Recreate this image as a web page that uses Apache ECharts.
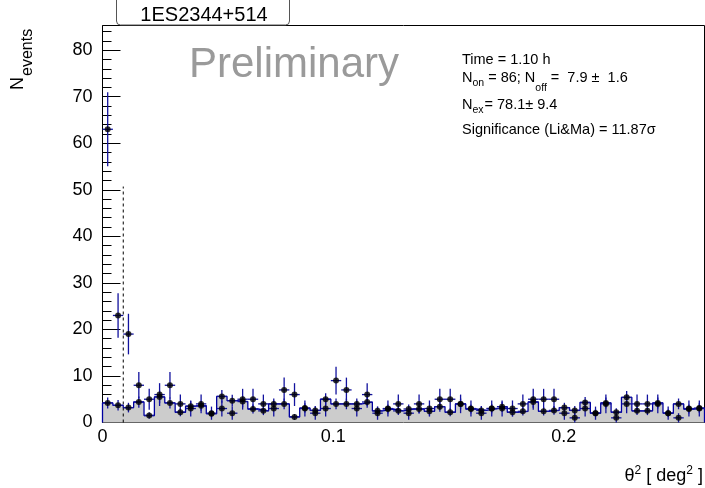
<!DOCTYPE html>
<html><head><meta charset="utf-8">
<script src="https://cdn.jsdelivr.net/npm/echarts@6/dist/echarts.min.js"></script>
<style>html,body{margin:0;padding:0;background:#fff}#c{width:705px;height:488px}</style>
</head><body><div id="c"></div>
<script>
// ---- data ----
const binWidth = 0.0045;
const xMax = 0.261;
const yMax = 85.3;
const onCounts = [63,23,19,8,5,6,8,4,3,4,2,3,2,5,5,4,3,7,6,3,2,3,9,7,3,6,2,3,4,2,
                  4,3,5,5,4,3,2,3,3,3,4,5,5,5,2,1,3,2,4,1,4,4,4,4,2,1,3,3];
const offCounts = [4.2,3.7,3.2,4.4,1.5,5.5,4.2,2.2,3.5,3.6,1.9,5.6,4.7,4.5,2.9,2.5,4.0,4.0,1.2,3.1,
                   2.6,5.0,4.0,4.0,4.0,4.4,2.5,2.9,2.5,2.9,2.9,2.4,3.4,2.2,4.0,2.9,2.6,3.0,3.4,2.2,
                   2.4,4.4,2.4,2.6,3.2,2.6,4.3,2.0,4.2,2.2,5.4,2.5,2.5,4.2,2.0,4.0,2.9,3.1];
const offNorm = 1/3;
const cutValue = 0.009;
const cutLineTop = 50.7;
const title = '1ES2344+514';
const statsTime = 'Time = 1.10 h';
const statsOn = '86', statsOff = '7.9 \u00b1  1.6', statsEx = '78.1\u00b1 9.4', statsSig = 'Significance (Li&Ma) = 11.87\u03c3';

const FONT = '"Liberation Sans", Arial, Helvetica, sans-serif';
const BLUE = '#12129e';

// ---- derived ----
const centers = onCounts.map((_, i) => (i + 0.5) * binWidth);
const onErr = onCounts.map((c, i) => [centers[i], c, Math.sqrt(c)]);
const offErr = offCounts.map((c, i) => [centers[i], c, Math.sqrt(c * offNorm)]);
const onPts = onCounts.map((c, i) => [centers[i], c]);
const offPts = offCounts.map((c, i) => [centers[i], c]);
const step = [[0, 0]];
offCounts.forEach((c, i) => { step.push([i * binWidth, c]); step.push([(i + 1) * binWidth, c]); });
step.push([offCounts.length * binWidth, 0]);

function errRender(params, api) {
  const x = api.value(0), y = api.value(1), e = api.value(2);
  const pL = api.coord([x - binWidth / 2, y]);
  const pR = api.coord([x + binWidth / 2, y]);
  const pT = api.coord([x, y + e]);
  const pB = api.coord([x, Math.max(0, y - e)]);
  return { type: 'group', children: [
    { type: 'line', shape: { x1: pL[0], y1: pL[1], x2: pR[0], y2: pR[1] }, style: { stroke: BLUE, lineWidth: 1.3 } },
    { type: 'line', shape: { x1: pT[0], y1: pT[1], x2: pB[0], y2: pB[1] }, style: { stroke: BLUE, lineWidth: 1.3 } }
  ]};
}

// text helpers
const mctx = document.createElement('canvas').getContext('2d');
function tw(s, size) { mctx.font = size + 'px ' + FONT; return mctx.measureText(s).width; }
function txt(s, x, baseline, size, fill, align) {
  return { type: 'text', x: x, y: baseline - 0.36 * size, z: 100,
    style: { text: s, font: size + 'px ' + FONT, fill: fill || '#000', align: align || 'left', verticalAlign: 'middle' } };
}
function seq(pieces, x0, baseline) {
  const out = []; let x = x0;
  pieces.forEach(p => { out.push(txt(p[0], x + (p[3] || 0), baseline + p[2], p[1])); x += tw(p[0], p[1]) + (p[3] || 0); });
  return out;
}
const S = 14.5, s = 10.5;
const graphics = [].concat(
  [{ type: 'rect', z: 90, shape: { x: 116.5, y: -5, width: 173, height: 30, r: [0, 0, 4, 4] }, style: { fill: '#fff', stroke: '#555', lineWidth: 1 } }],
  [txt(title, 204, 22.7, 20, '#000', 'center')],
  [txt('Preliminary', 294, 81, 42, '#9a9a9a', 'center')],
  [txt(statsTime, 462, 65, S)],
  seq([['N', S, 0], ['on', s, 3.3], [' = ' + statsOn + '; N', S, 0], ['off', s, 9], [' =  ' + statsOff, S, 0]], 462, 83.3),
  seq([['N', S, 0], ['ex', s, 3.3], ['= ' + statsEx, S, 0, 1]], 462, 110.7),
  [txt(statsSig, 462, 135, S)],
  [{ type: 'group', x: 25, y: 90, rotation: Math.PI / 2, z: 100, children: [
      { type: 'text', x: 0, y: -0.36 * 18, style: { text: 'N', font: '18px ' + FONT, fill: '#000', align: 'left', verticalAlign: 'middle' } },
      { type: 'text', x: 14, y: 8 - 0.36 * 16, style: { text: 'events', font: '16px ' + FONT, fill: '#000', align: 'left', verticalAlign: 'middle' } }
  ]}]
);
// x-axis title, right aligned
(function () {
  const pieces = [['\u03b8', 18, 0], ['2', 12, -8], [' [ deg', 18, 0], ['2', 12, -8], [' ]', 18, 0]];
  let total = 0; pieces.forEach(p => total += tw(p[0], p[1]));
  seq(pieces, 703 - total, 483).forEach(g => graphics.push(g));
})();

const chart = echarts.init(document.getElementById('c'), null, { renderer: 'canvas' });
const axisLabelStyle = { fontSize: 18, color: '#000', fontFamily: FONT };
chart.setOption({
  animation: false,
  backgroundColor: '#fff',
  grid: { left: 102.5, right: 0.5, top: 25.5, bottom: 65.5, show: true, borderColor: '#000', borderWidth: 1, backgroundColor: 'transparent' },
  xAxis: [
    { type: 'value', min: 0, max: xMax, interval: 0.1, position: 'bottom',
      axisLine: { show: false }, splitLine: { show: false },
      axisTick: { inside: true, length: 12, lineStyle: { color: '#000' } },
      axisLabel: Object.assign({ margin: 6, showMaxLabel: false }, axisLabelStyle) },
    { type: 'value', min: 0, max: xMax, interval: 0.02, position: 'bottom',
      axisLine: { show: false }, splitLine: { show: false }, axisLabel: { show: false },
      axisTick: { inside: true, length: 6, lineStyle: { color: '#000' } } }
  ],
  yAxis: [
    { type: 'value', min: 0, max: yMax, interval: 10, position: 'left',
      axisLine: { show: false }, splitLine: { show: false },
      axisTick: { inside: true, length: 18, lineStyle: { color: '#000' } },
      axisLabel: Object.assign({ margin: 10, showMaxLabel: false, padding: [8, 0, 0, 0] }, axisLabelStyle) },
    { type: 'value', min: 0, max: yMax, interval: 2, position: 'left',
      axisLine: { show: false }, splitLine: { show: false }, axisLabel: { show: false },
      axisTick: { inside: true, length: 9, lineStyle: { color: '#000' } } }
  ],
  series: [
    { type: 'line', data: step, symbol: 'none', showSymbol: false, silent: true, z: 1,
      lineStyle: { color: '#0000a0', width: 1.3 }, areaStyle: { color: '#cccccc', opacity: 1 } },
    { type: 'line', data: [[cutValue, 0], [cutValue, cutLineTop]], symbol: 'none', z: 2,
      lineStyle: { color: '#000', width: 1, type: [3, 3] } },
    { type: 'custom', data: offErr, renderItem: errRender, z: 3, encode: { x: 0, y: 1 } },
    { type: 'custom', data: onErr, renderItem: errRender, z: 4, encode: { x: 0, y: 1 } },
    { type: 'scatter', data: offPts, symbol: 'circle', symbolSize: 6, itemStyle: { color: '#000' }, z: 5 },
    { type: 'scatter', data: onPts, symbol: 'circle', symbolSize: 6, itemStyle: { color: '#000' }, z: 6 }
  ],
  graphic: graphics
});
</script>
</body></html>
